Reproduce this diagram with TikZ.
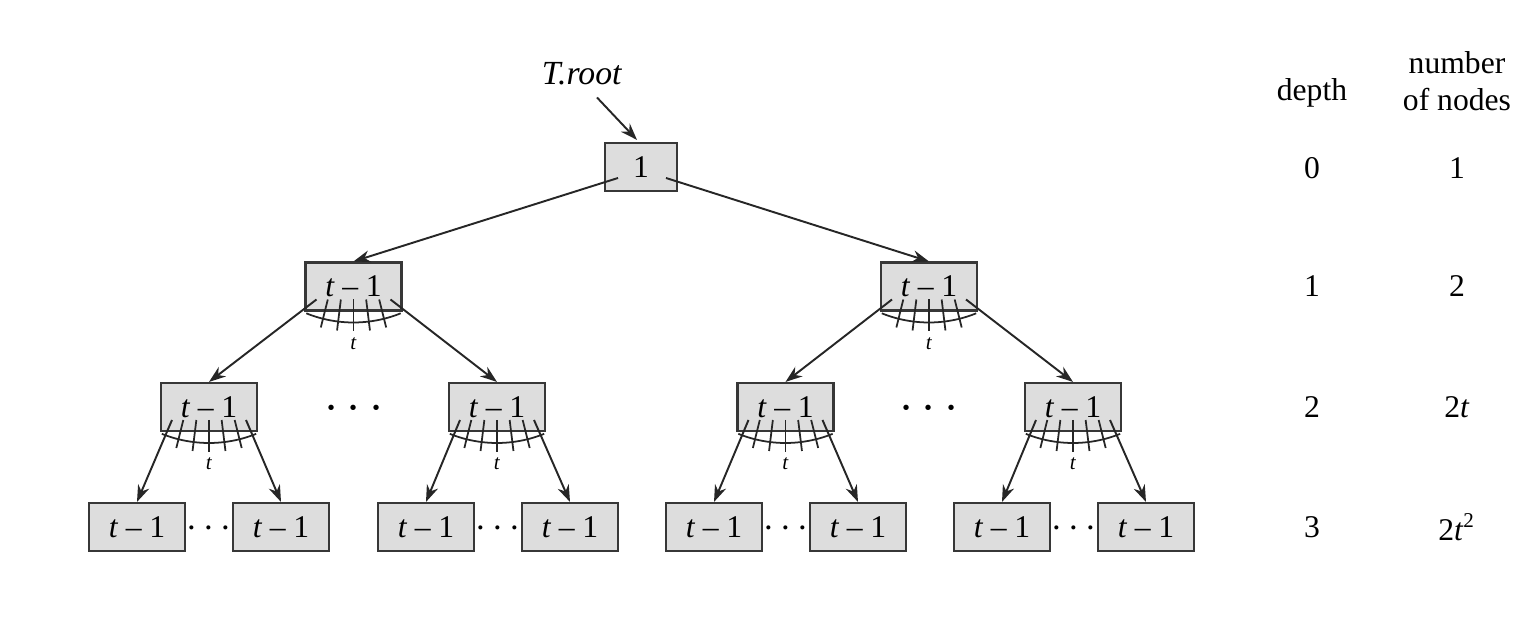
\documentclass[tikz,border=0pt]{standalone}
\usepackage{fontspec}
\setmainfont{Liberation Serif}
\usetikzlibrary{arrows.meta, calc}
\definecolor{boxfill}{RGB}{221,221,221}
\definecolor{boxline}{RGB}{55,55,55}
\tikzset{
  key/.style={rectangle, draw=boxline, fill=boxfill, line width=0.6pt,
              inner sep=0pt, minimum width=0.96cm, minimum height=0.48cm,
              font=\fontsize{9}{10}\selectfont},
  arrow/.style={-{Stealth[length=4.8pt, width=3.4pt]}, line width=0.55pt, color=black!85},
  tick/.style={line width=0.5pt, color=black!85},
  txt/.style={font=\fontsize{9}{10.5}\selectfont, inner sep=1pt},
}
\newcommand{\tlbl}{\textit{t}\kern0.24em\textendash\kern0.24em1}
% fan of t pointers under a key
\newcommand{\keyfan}[1]{%
  \coordinate (#1o) at ($(#1.center)+(0,0.9)$);
  \foreach \a in {-14,-7,0,7,14}
    \draw[tick] ($(#1o)+(-90+\a:{1.03/cos(\a)})$) -- ($(#1o)+(-90+\a:1.35)$);
  \draw[tick] ($(#1o)+(-112:1.26)$) arc[start angle=-112, end angle=-68, radius=1.26];
  \node[font=\fontsize{6}{7}\selectfont, inner sep=0pt] (#1t) at ($(#1.center)+(0,-0.57)$) {\textit{t}};
}

\begin{document}
\begin{tikzpicture}
  \useasboundingbox (0,0) rectangle (15.36,6.24);

  % root
  \node[key, minimum width=0.72cm] (root) at (6.41,4.57) {1};
  \node[txt, font=\fontsize{9.6}{11}\selectfont] (troot) at (5.82,5.50) {\textit{T.root}};
  \draw[arrow] ($(troot.south)+(0.15,-0.08)$) -- ($(root.north)+(-0.04,0.02)$);

  % depth 1
  \node[key] (m1) at (3.535,3.375) {\tlbl};
  \node[key] (m2) at (9.29,3.375) {\tlbl};
  \draw[arrow] ($(root.center)+(-0.23,-0.11)$) -- (m1.north);
  \draw[arrow] ($(root.center)+(0.25,-0.11)$) -- (m2.north);

  % depth 2
  \foreach \i/\x in {1/2.09, 2/4.97, 3/7.855, 4/10.73}
    \node[key] (b\i) at (\x,2.17) {\tlbl};
  \foreach \n/\l/\r in {m1/1/2, m2/3/4}{
    \draw[arrow] ($(\n.center)+(-0.37,-0.13)$) -- (b\l.north);
    \draw[arrow] ($(\n.center)+(0.37,-0.13)$) -- (b\r.north);
  }
  \foreach \n/\x in {d1/3.54, d2/9.29}
    \node[font=\fontsize{15}{16}\selectfont, inner sep=0pt] (\n) at (\x,2.15) {$\cdots$};

  % depth 3
  \foreach \i/\x in {1/1.37, 2/2.81, 3/4.26, 4/5.70, 5/7.14, 6/8.58, 7/10.02, 8/11.46}
    \node[key] (c\i) at (\x,0.97) {\tlbl};
  \foreach \i/\l/\r in {1/1/2, 2/3/4, 3/5/6, 4/7/8}{
    \draw[arrow] ($(b\i.center)+(-0.37,-0.13)$) -- (c\l.north);
    \draw[arrow] ($(b\i.center)+(0.37,-0.13)$) -- (c\r.north);
    \node[font=\fontsize{11}{12}\selectfont, inner sep=0pt] (e\i) at ($(c\l)!0.5!(c\r)+(0,-0.02)$) {$\cdots$};
  }

  % pointer fans
  \foreach \n in {m1, m2, b1, b2, b3, b4}
    \keyfan{\n};

  % depth / count table
  \node[txt] (hd) at (13.12,5.31) {depth};
  \node[txt, align=center] (hn) at (14.57,5.43) {number\\of nodes};
  \foreach \d/\y/\c in {0/4.56/1, 1/3.38/2, 2/2.17/{2\textit{t}}, 3/0.97/{2\textit{t}\textsuperscript{2}}}{
    \node[txt] (dp\d) at (13.12,\y) {\d};
    \node[txt] (nn\d) at (14.57,\y) {\c};
  }
\end{tikzpicture}
\end{document}
